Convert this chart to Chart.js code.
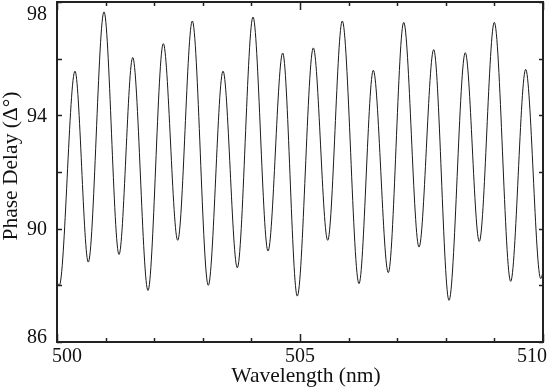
<!DOCTYPE html>
<html>
<head>
<meta charset="utf-8">
<script src="https://cdn.jsdelivr.net/npm/chart.js@4"></script>
<style>
  html, body { margin:0; padding:0; background:#fff; }
  #wrap { width:548px; height:387px; }
</style>
</head>
<body>
<div id="wrap"><canvas id="c" width="548" height="387"></canvas></div>
<script>
// extrema (nm, degrees)
const wavelength = [500.0, 500.047, 500.370, 500.644, 500.967, 501.276, 501.558, 501.872, 502.187, 502.484,
  502.784, 503.113, 503.416, 503.710, 504.033, 504.342, 504.644, 504.944, 505.274, 505.570,
  505.870, 506.214, 506.508, 506.817, 507.134, 507.449, 507.751, 508.066, 508.401, 508.689,
  508.998, 509.335, 509.644, 509.953, 510.0];
const phaseDelay = [88.1, 88.0, 95.56, 88.82, 97.65, 89.09, 96.04, 87.82, 96.53, 89.59,
  97.33, 88.0, 95.56, 88.62, 97.47, 89.21, 96.20, 87.62, 96.38, 89.59,
  97.33, 88.06, 95.59, 88.45, 97.28, 89.35, 96.32, 87.47, 96.21, 89.55,
  97.28, 88.14, 95.62, 88.24, 88.45];
const xTicks = [500, 501, 502, 503, 504, 505, 506, 507, 508, 509, 510];
const xLabels = [500, 505, 510];
const yTicks = [86, 88, 90, 92, 94, 96, 98];
const yLabels = [86, 90, 94, 98];

const FONT = '20px "Liberation Serif", serif';
const TITLE_FONT = '21.5px "Liberation Serif", serif';
const INK = '#222';

const framePlugin = {
  id: 'frame',
  afterDraw(chart) {
    const ctx = chart.ctx, a = chart.chartArea;
    const xs = chart.scales.x, ys = chart.scales.y;
    ctx.save();
    ctx.strokeStyle = INK;
    ctx.lineWidth = 1.5;
    // ticks, inward on all four sides
    xTicks.forEach(v => {
      const px = Math.round(xs.getPixelForValue(v)) + 0.5;
      const len = xLabels.includes(v) ? 8 : 4;
      ctx.beginPath();
      ctx.moveTo(px, a.bottom); ctx.lineTo(px, a.bottom - len);
      ctx.moveTo(px, a.top); ctx.lineTo(px, a.top + len);
      ctx.stroke();
    });
    yTicks.forEach(v => {
      const py = Math.round(ys.getPixelForValue(v)) + 0.5;
      ctx.beginPath();
      ctx.moveTo(a.left, py); ctx.lineTo(a.left + 5, py);
      ctx.moveTo(a.right, py); ctx.lineTo(a.right - 4, py);
      ctx.stroke();
    });
    // box
    ctx.lineWidth = 2;
    ctx.strokeRect(a.left, a.top, a.right - a.left, a.bottom - a.top);

    ctx.fillStyle = '#111';
    ctx.font = FONT;
    // x labels, end ones kept inside the figure
    xLabels.forEach((v, i) => {
      const px = xs.getPixelForValue(v);
      ctx.textBaseline = 'middle';
      if (i === 0) { ctx.textAlign = 'left'; ctx.fillText(String(v), px - 5, a.bottom + 15); }
      else if (i === xLabels.length - 1) { ctx.textAlign = 'right'; ctx.fillText(String(v), px + 4, a.bottom + 15); }
      else { ctx.textAlign = 'center'; ctx.fillText(String(v), px, a.bottom + 15); }
    });
    // y labels
    ctx.textAlign = 'right';
    yLabels.forEach(v => {
      const py = ys.getPixelForValue(v);
      if (v === 98) { ctx.textBaseline = 'top'; ctx.fillText(String(v), 47, py + 3); }
      else if (v === 86) { ctx.textBaseline = 'alphabetic'; ctx.fillText(String(v), 47, py + 1); }
      else { ctx.textBaseline = 'middle'; ctx.fillText(String(v), 47, py + 1); }
    });
    // axis titles
    ctx.font = TITLE_FONT;
    ctx.textAlign = 'center';
    ctx.textBaseline = 'middle';
    ctx.fillText('Wavelength (nm)', 306, a.bottom + 34);
    ctx.translate(11, (a.top + a.bottom) / 2 - 6);
    ctx.rotate(-Math.PI / 2);
    ctx.fillText('Phase Delay (\u0394\u00b0)', 0, 0);
    ctx.restore();
  }
};

new Chart(document.getElementById('c'), {
  type: 'line',
  data: {
    datasets: [{
      data: wavelength.map((w, i) => ({ x: w, y: phaseDelay[i] })),
      borderColor: '#1a1a1a',
      borderWidth: 1,
      pointRadius: 0,
      fill: false,
      cubicInterpolationMode: 'monotone'
    }]
  },
  options: {
    responsive: false,
    animation: false,
    layout: { padding: { left: 57, right: 5, top: 2, bottom: 45 } },
    plugins: { legend: { display: false }, tooltip: { enabled: false } },
    scales: {
      x: { type: 'linear', min: 500, max: 510, display: false },
      y: { min: 86, max: 98, display: false }
    }
  },
  plugins: [framePlugin]
});
</script>
</body>
</html>
